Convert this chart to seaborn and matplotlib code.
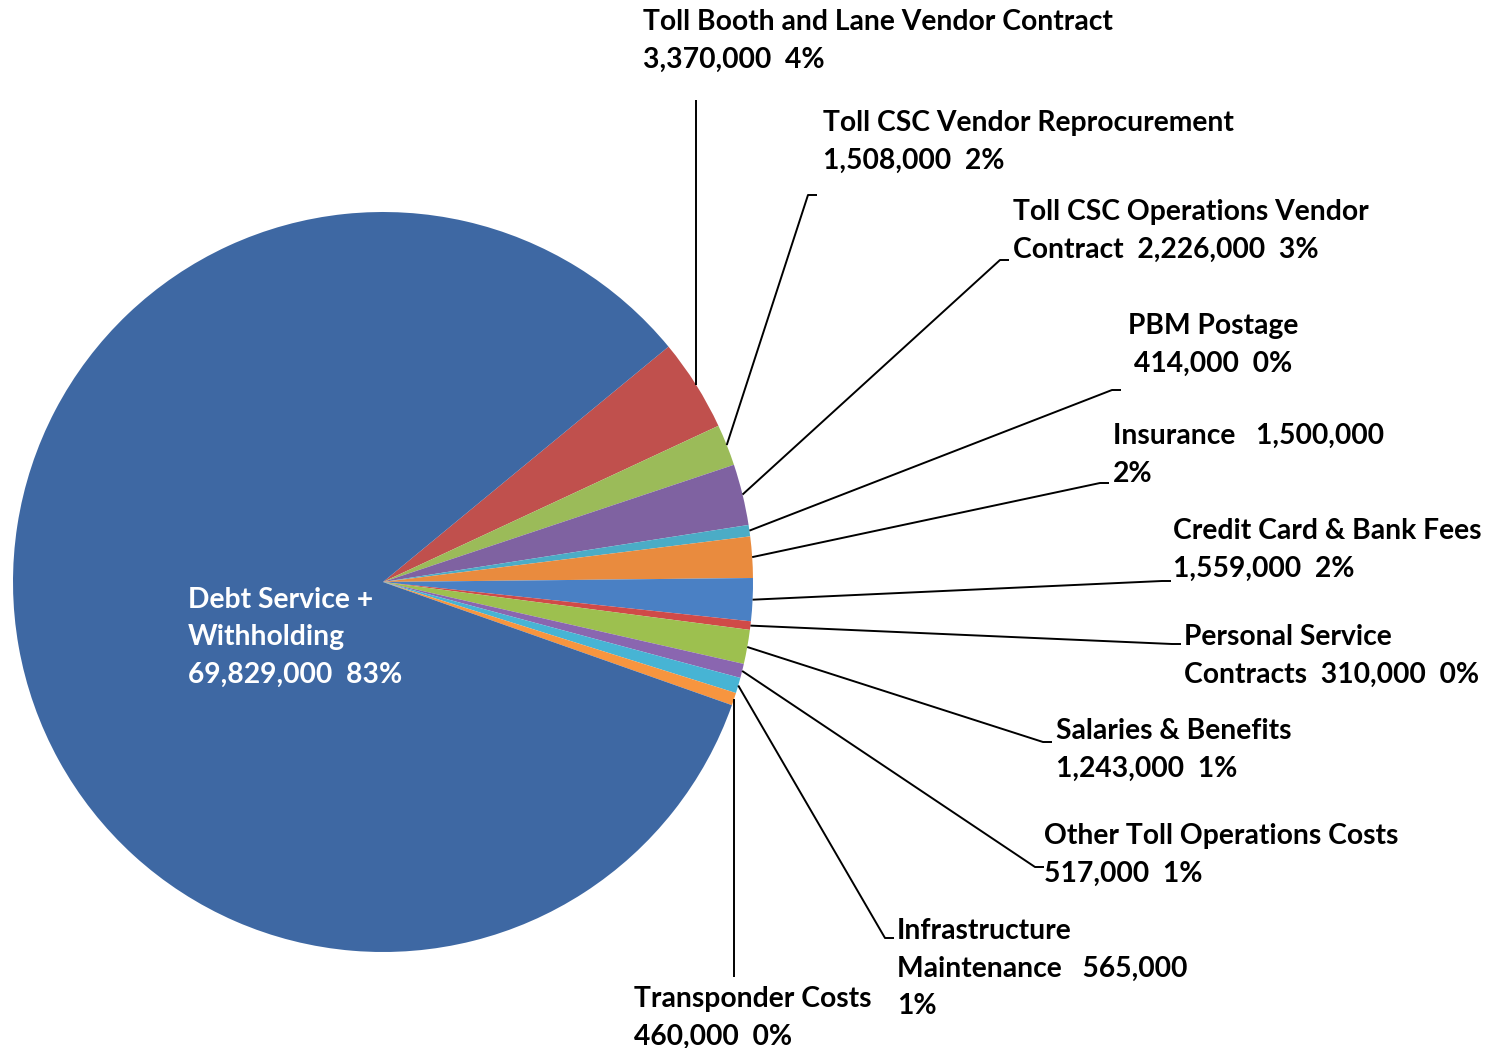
import numpy as np
import matplotlib
matplotlib.use("Agg")
import matplotlib.pyplot as plt
import seaborn as sns

# Toll operations budget by category (dollars)
categories = [
    "Toll Booth and Lane Vendor Contract",
    "Toll CSC Vendor Reprocurement",
    "Toll CSC Operations Vendor Contract",
    "PBM Postage",
    "Insurance",
    "Credit Card & Bank Fees",
    "Personal Service Contracts",
    "Salaries & Benefits",
    "Other Toll Operations Costs",
    "Infrastructure Maintenance",
    "Transponder Costs",
    "Debt Service + Withholding",
]
amounts = [3370000, 1508000, 2226000, 414000, 1500000, 1559000,
           310000, 1243000, 517000, 565000, 460000, 69829000]
pct_labels = ["4%", "2%", "3%", "0%", "2%", "2%", "0%", "1%", "1%", "1%", "0%", "83%"]

colors = ["#C0504D", "#9BBB59", "#7F62A1", "#4BACC6", "#E98B3E", "#4A80C4",
          "#D04A48", "#9DC04F", "#8A66B0", "#47B4D4", "#F7953F", "#3E68A3"]

# wrapped label lines
label_lines = [
    ["Toll Booth and Lane Vendor Contract", "3,370,000  4%"],
    ["Toll CSC Vendor Reprocurement", "1,508,000  2%"],
    ["Toll CSC Operations Vendor", "Contract  2,226,000  3%"],
    ["PBM Postage", "414,000  0%"],
    ["Insurance   1,500,000", "2%"],
    ["Credit Card & Bank Fees", "1,559,000  2%"],
    ["Personal Service", "Contracts  310,000  0%"],
    ["Salaries & Benefits", "1,243,000  1%"],
    ["Other Toll Operations Costs", "517,000  1%"],
    ["Infrastructure", "Maintenance   565,000", "1%"],
    ["Transponder Costs", "460,000  0%"],
    ["Debt Service +", "Withholding", "69,829,000  83%"],
]

sns.set_theme(style="white")
plt.rcParams["font.family"] = ["Lato", "DejaVu Sans"]

W, H = 1502, 1048
fig = plt.figure(figsize=(W / 100, H / 100), dpi=100)
fig.patch.set_facecolor("white")
ax = fig.add_axes([0, 0, 1, 1])


def Y(yp):
    return H - yp


cx, cy, R = 383, Y(582), 370
wedges, _ = ax.pie(amounts, colors=colors, startangle=39.5, counterclock=False,
                   radius=R, center=(cx, cy),
                   wedgeprops=dict(linewidth=0, antialiased=True))
ax.set_xlim(0, W)
ax.set_ylim(0, H)
ax.set_aspect("equal")
ax.axis("off")

# label layout: (x, first-line centre y, horizontal alignment)
label_pos = [
    (643, 20, "left"), (823, 121, "left"), (1013, 210, "left"),
    (1213, 324, "center"), (1113, 434, "left"), (1173, 529, "left"),
    (1184, 635, "left"), (1056, 729, "left"), (1044, 834, "left"),
    (897, 929, "left"), (634, 997, "left"), (188, 598, "left"),
]
# leader elbows: None x means the leader runs straight up/down from the wedge
elbows = [
    (None, 100), (808, 195), (1000, 260), (1112, 390), (1100, 483),
    (1162, 581), (1172, 644), (1043, 742), (1035, 867), (885, 938),
    (None, 977), None,
]
stub = 9
pitch = 37.5
fs = 20.3

for i, w in enumerate(wedges):
    mid = np.deg2rad((w.theta1 + w.theta2) / 2)
    px, py = cx + R * np.cos(mid), cy + R * np.sin(mid)
    e = elbows[i]
    if e is not None:
        ex = px if e[0] is None else e[0]
        xs, ys = [px, ex], [py, Y(e[1])]
        if e[0] is not None:
            xs.append(ex + stub)
            ys.append(Y(e[1]))
        ax.plot(xs, ys, color="black", lw=1.4, solid_capstyle="butt", zorder=3)

    x0, y0, ha = label_pos[i]
    col = "white" if i == len(wedges) - 1 else "black"
    for k, line in enumerate(label_lines[i]):
        ax.text(x0, Y(y0 + k * pitch + 10), line, ha=ha, va="baseline",
                fontsize=fs, fontweight="bold", color=col, zorder=4)

fig.savefig("out.png", dpi=100, facecolor="white")
